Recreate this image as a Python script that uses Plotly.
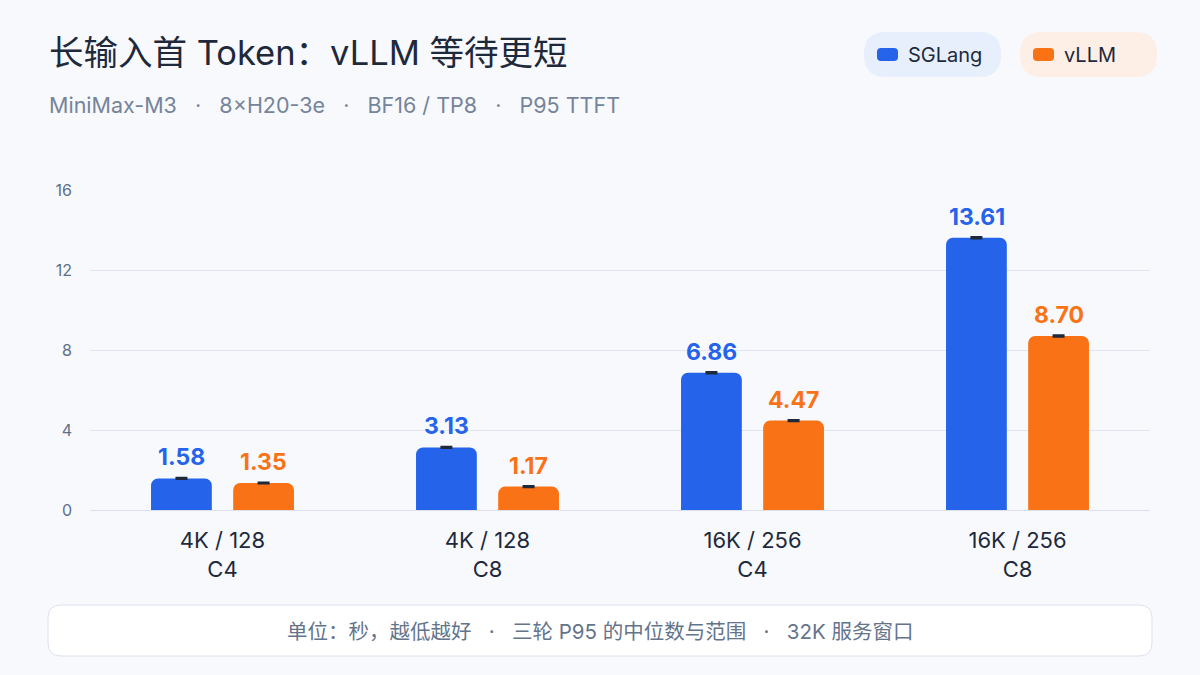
import plotly.graph_objects as go

categories = ["4K / 128<br>C4", "4K / 128<br>C8", "16K / 256<br>C4", "16K / 256<br>C8"]
sglang = [1.58, 3.13, 6.86, 13.61]
vllm = [1.35, 1.17, 4.47, 8.70]
sglang_err = [0.03, 0.03, 0.04, 0.04]
vllm_err = [0.03, 0.03, 0.03, 0.04]
y_ticks = [0, 4, 8, 12, 16]

BLUE = "#2563eb"
ORANGE = "#f97316"
INK = "#1e293b"
FONT = "Inter, Noto Sans CJK SC, sans-serif"

fig = go.Figure()
for name, vals, err, col in [("SGLang", sglang, sglang_err, BLUE), ("vLLM", vllm, vllm_err, ORANGE)]:
    fig.add_trace(go.Bar(
        name=name, x=categories, y=vals, marker=dict(color=col, line=dict(width=0)),
        error_y=dict(type="data", array=err, visible=True, color=INK, thickness=2, width=6),
        hoverinfo="skip",
    ))

# value labels above the bars
for vals, col, shift in [(sglang, BLUE, -41), (vllm, ORANGE, 41)]:
    for c, v in zip(categories, vals):
        fig.add_annotation(x=c, y=v, text="<b>%.2f</b>" % v, showarrow=False, xshift=shift,
                           yanchor="bottom", yshift=5, font=dict(size=23, color=col, family=FONT))

fig.update_layout(
    width=1200, height=675,
    paper_bgcolor="#f7f9fd", plot_bgcolor="#f7f9fd",
    margin=dict(l=90, r=50, t=190, b=165),
    barmode="group", bargap=0.38, bargroupgap=0.26, barcornerradius=7,
    showlegend=False,
    font=dict(family=FONT),
    xaxis=dict(tickfont=dict(size=22, color=INK), showgrid=False, ticks="", showline=False,
               ticklabelstandoff=15),
    yaxis=dict(range=[0, 16], tickvals=y_ticks, tickfont=dict(size=16, color="#5f6f86"),
               gridcolor="#e1e5f0", gridwidth=1, zeroline=True, zerolinecolor="#dcdfeb",
               zerolinewidth=1, ticks="", ticklabelstandoff=17, showline=False),
)


def px(x):
    return (x - 90) / 1060


def py(y):
    return (510 - y) / 320


fig.add_annotation(xref="paper", yref="paper", x=px(47), y=py(53), text="长输入首 Token：vLLM 等待更短",
                   showarrow=False, xanchor="left", yanchor="middle",
                   font=dict(size=34.5, color=INK, family=FONT))
fig.add_annotation(xref="paper", yref="paper", x=px(47), y=py(105),
                   text="MiniMax-M3   ·   8×H20-3e   ·   BF16 / TP8   ·   P95 TTFT",
                   showarrow=False, xanchor="left", yanchor="middle",
                   font=dict(size=21.5, color="#76849a", family=FONT))


# rounded rectangles drawn in pixel space, anchored at the plot-area origin (90, 510)
def add_rr(x0, y0, x1, y1, r, fill, line=None, layer="below"):
    ax0, ay0 = x0 - 90, 510 - y1
    ax1, ay1 = x1 - 90, 510 - y0
    path = (f"M{ax0+r},{ay0} L{ax1-r},{ay0} Q{ax1},{ay0} {ax1},{ay0+r} L{ax1},{ay1-r} Q{ax1},{ay1} {ax1-r},{ay1} "
            f"L{ax0+r},{ay1} Q{ax0},{ay1} {ax0},{ay1-r} L{ax0},{ay0+r} Q{ax0},{ay0} {ax0+r},{ay0} Z")
    fig.add_shape(type="path", xref="paper", yref="paper", xsizemode="pixel", ysizemode="pixel",
                  xanchor=0, yanchor=0, path=path, fillcolor=fill,
                  line=dict(color=line or fill, width=1 if line else 0), layer=layer)


# legend pills
add_rr(864, 32, 1001, 77, 22, "#e7effd")
add_rr(877, 48, 898, 61, 4, BLUE, layer="above")
fig.add_annotation(xref="paper", yref="paper", x=px(906), y=py(55), text="SGLang", showarrow=False,
                   xanchor="left", yanchor="middle", font=dict(size=20, color=INK, family=FONT))
add_rr(1020, 32, 1157, 77, 22, "#fdefe5")
add_rr(1033, 48, 1054, 61, 4, ORANGE, layer="above")
fig.add_annotation(xref="paper", yref="paper", x=px(1062), y=py(55), text="vLLM", showarrow=False,
                   xanchor="left", yanchor="middle", font=dict(size=20, color=INK, family=FONT))

# footer box
add_rr(48, 605, 1152, 656, 13, "#ffffff", line="#dde1ec")
fig.add_annotation(xref="paper", yref="paper", x=px(600), y=py(631),
                   text="单位：秒，越低越好   ·   三轮 P95 的中位数与范围   ·   32K 服务窗口",
                   showarrow=False, xanchor="center", yanchor="middle",
                   font=dict(size=20.5, color="#64748b", family=FONT))

fig.write_html("out.html", config={"displayModeBar": False},
               post_script="document.body.style.margin='0';")
